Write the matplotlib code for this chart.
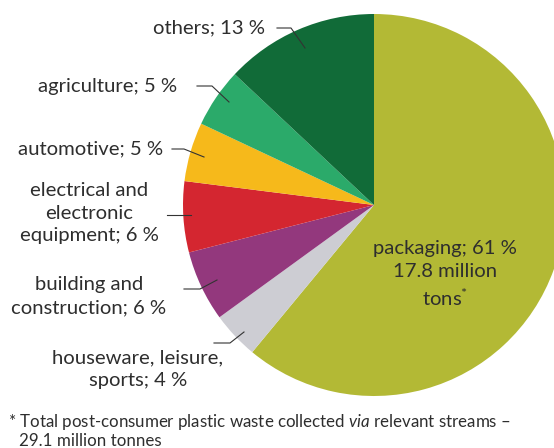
import matplotlib
matplotlib.use("Agg")
import matplotlib.pyplot as plt

# data
sectors = ["packaging", "houseware, leisure,\nsports", "building and\nconstruction",
           "electrical and\nelectronic\nequipment", "automotive", "agriculture", "others"]
shares = [61, 4, 6, 6, 5, 5, 13]
colors = ["#b3b935", "#cdcdd3", "#93387d", "#d42630", "#f6b91b", "#2baa6a", "#116b38"]
labels = ["packaging; 61 %\n17.8 million\ntons$^{*}$", "houseware, leisure,\nsports; 4 %",
          "building and\nconstruction; 6 %", "electrical and\nelectronic\nequipment; 6 %",
          "automotive; 5 %", "agriculture; 5 %", "others; 13 %"]
footnote_1 = "* Total post-consumer plastic waste collected $\\it{via}$ relevant streams \u2013"
footnote_2 = "29.1 million tonnes"

W, H = 554, 448
plt.rcParams['font.family'] = ['Lato', 'DejaVu Sans']
plt.rcParams['mathtext.fontset'] = 'custom'
plt.rcParams['mathtext.rm'] = 'Lato'
plt.rcParams['mathtext.it'] = 'Lato:italic'
txt = "#2e2e2e"
line_c = "#333333"

fig = plt.figure(figsize=(W / 100, H / 100), dpi=100)
ax = fig.add_axes([0, 0, 1, 1])


def Y(y):  # pixel row -> data y
    return H - y


ax.pie(shares, colors=colors, startangle=90, counterclock=False,
       center=(374, Y(205)), radius=191, wedgeprops=dict(linewidth=0),
       frame=True)
ax.set_xlim(0, W)
ax.set_ylim(0, H)
ax.set_aspect("equal")
ax.axis("off")

fs = 14.6
ls = 1.42
# labels + leader lines
ax.text(265, Y(28), labels[6], ha="right", va="center", fontsize=fs, color=txt)
ax.plot([277, 291, 305], [Y(28), Y(28), Y(48)], color=line_c, lw=0.8)

ax.text(177, Y(86), labels[5], ha="right", va="center", fontsize=fs, color=txt)
ax.plot([197, 212, 229], [Y(86), Y(86), Y(102)], color=line_c, lw=0.8)

ax.text(163, Y(149), labels[4], ha="right", va="center", fontsize=fs, color=txt)
ax.plot([172, 184, 204], [Y(149), Y(149), Y(157)], color=line_c, lw=0.8)

ax.text(89, Y(213), labels[3], ha="center", va="center", fontsize=fs, color=txt,
        multialignment="center", linespacing=ls)
ax.plot([167, 191], [Y(215), Y(215)], color=line_c, lw=0.8)

ax.text(89, Y(296), labels[2], ha="center", va="center", fontsize=fs, color=txt,
        multialignment="center", linespacing=ls)
ax.plot([184, 200, 217], [Y(289), Y(289), Y(280)], color=line_c, lw=0.8)

ax.text(138, Y(369), labels[1], ha="center", va="center", fontsize=fs, color=txt,
        multialignment="center", linespacing=ls)
ax.plot([214, 230, 244], [Y(343), Y(343), Y(332)], color=line_c, lw=0.8)

ax.text(445, Y(274), labels[0], ha="center", va="center", fontsize=fs, color=txt,
        multialignment="center", linespacing=ls)

ax.text(8, Y(422), footnote_1, ha="left", va="center", fontsize=12.2, color=txt)
ax.text(19, Y(441), footnote_2, ha="left", va="center", fontsize=12.2, color=txt)

fig.savefig("out.png", dpi=100)
